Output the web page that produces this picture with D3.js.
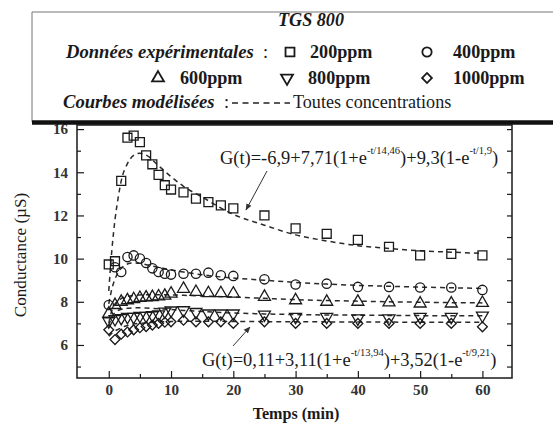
<!DOCTYPE html>
<html><head><meta charset="utf-8">
<script src="https://cdn.jsdelivr.net/npm/d3@7/dist/d3.min.js"></script>
<style>body{margin:0;background:#fff}svg{display:block}</style>
</head><body>
<svg id="c" width="553" height="426"></svg>
<script>
// ---- data ----
const times = [0,1,2,3,4,5,6,7,8,9,10,12,14,16,18,20,25,30,35,40,45,50,55,60];
const ppm200  = [9.73,9.88,13.6,15.6,15.7,15.4,14.78,14.37,13.88,13.4,13.2,13.07,12.78,12.62,12.47,12.33,12.0,11.4,11.15,10.87,10.55,10.15,10.22,10.15];
const ppm400  = [7.85,9.6,9.38,10.07,10.15,10.0,9.8,9.55,9.38,9.3,9.26,9.3,9.3,9.35,9.23,9.2,9.04,8.8,8.84,8.69,8.69,8.66,8.66,8.55];
const ppm600  = [7.45,7.85,8.0,8.07,8.12,8.18,8.2,8.22,8.25,8.28,8.38,8.6,8.46,8.4,8.4,8.38,8.23,8.07,8.0,8.0,7.97,7.92,7.92,7.95];
const ppm800  = [7.1,7.2,7.25,7.3,7.3,7.35,7.35,7.38,7.42,7.55,7.6,7.61,7.53,7.46,7.46,7.46,7.41,7.3,7.3,7.23,7.23,7.3,7.3,7.36];
const ppm1000 = [6.7,6.25,6.5,6.6,6.7,6.8,6.85,6.92,7.0,7.05,7.07,7.15,7.07,7.07,7.07,7.0,7.07,7.0,7.0,7.0,7.0,7.0,7.0,6.84];

const fitTimes = [0,0.5,1,1.5,2,3,4,5,6,8,10,12,15,20,25,30,35,40,45,50,55,60];
const fit200  = [8.5,10.4,11.8,12.8,13.6,14.4,14.78,14.88,14.8,14.3,13.8,13.35,12.85,12.05,11.55,11.1,10.82,10.6,10.47,10.36,10.3,10.24];
const fit400  = [7.9,8.6,9.05,9.35,9.55,9.75,9.8,9.78,9.72,9.6,9.48,9.38,9.25,9.1,9.0,8.9,8.82,8.76,8.72,8.68,8.65,8.62];
const fit600  = [7.0,7.6,7.9,8.05,8.15,8.25,8.3,8.32,8.33,8.33,8.32,8.3,8.27,8.22,8.16,8.1,8.06,8.03,8.0,7.98,7.96,7.95];
const fit800  = [6.9,7.3,7.5,7.6,7.65,7.7,7.72,7.72,7.71,7.68,7.64,7.6,7.55,7.48,7.44,7.41,7.39,7.38,7.37,7.36,7.35,7.35];
const fit1000 = [6.4,6.55,6.65,6.72,6.8,6.9,6.97,7.0,7.03,7.07,7.09,7.1,7.1,7.09,7.08,7.07,7.07,7.06,7.06,7.05,7.05,7.05];

const xTicks = [0,10,20,30,40,50,60];
const xMinor = [5,15,25,35,45,55];
const yTicks = [6,8,10,12,14,16];
const yMinor = [5,7,9,11,13,15];
const seriesNames = ["200ppm","400ppm","600ppm","800ppm","1000ppm"];

// ---- font detection (Times-like serif) ----
function hasFont(name){
  const c = document.createElement("canvas").getContext("2d");
  const s = "abcdefghijklmnopqrstuvwxyzABCDEFGHIJ0123456789";
  let diff = false;
  ["monospace","sans-serif","serif"].forEach(g=>{
    c.font = "40px " + g; const w1 = c.measureText(s).width;
    c.font = `40px "${name}", ${g}`; const w2 = c.measureText(s).width;
    if (Math.abs(w1-w2) > 0.5) diff = true;
  });
  return diff;
}
const cands = ["Liberation Serif","Times New Roman","Tinos","Nimbus Roman","FreeSerif","DejaVu Serif","Noto Serif"];
let FONT = "serif";
for (const f of cands){ if (hasFont(f)) { FONT = f; break; } }
const FF = `"${FONT}", serif`;
const ctx = document.createElement("canvas").getContext("2d");
ctx.font = `100px ${FF}`;
const K = Math.min(1.05, 880 / ctx.measureText("Toutes concentrations").width);
const fs = v => (v*K).toFixed(2);

// ---- chart ----
const svg = d3.select("#c").attr("font-family", FF);
const L=77,R=512,T=125,B=378;
const x = d3.scaleLinear().domain([-5.1,64.75]).range([L,R]);
const y = d3.scaleLinear().domain([4.47,16.19]).range([B,T]);
const ink = "#1a1a1a";

const sym = {
  "200ppm":  {type:d3.symbolSquare,   size:80, rot:0},
  "400ppm":  {type:d3.symbolCircle,   size:68, rot:0},
  "600ppm":  {type:d3.symbolTriangle, size:62, rot:0},
  "800ppm":  {type:d3.symbolTriangle, size:62, rot:180},
  "1000ppm": {type:d3.symbolSquare,   size:48, rot:45}
};
function drawSym(g, name, cx, cy, sw){
  const s = sym[name];
  g.append("path").attr("d", d3.symbol().type(s.type).size(s.size)())
    .attr("transform", `translate(${cx},${cy}) rotate(${s.rot})`)
    .attr("fill","none").attr("stroke",ink).attr("stroke-width",sw||1.2);
}

// fitted curves
const fits = [fit200,fit400,fit600,fit800,fit1000];
const line = d3.line().x(d=>x(d[0])).y(d=>y(d[1])).curve(d3.curveMonotoneX);
fits.forEach(f=>{
  svg.append("path").attr("d", line(fitTimes.map((t,i)=>[t,f[i]])))
    .attr("fill","none").attr("stroke","#2a2a2a").attr("stroke-width",1.5)
    .attr("stroke-dasharray","5,4");
});

// data points
const data = [ppm200,ppm400,ppm600,ppm800,ppm1000];
const gp = svg.append("g");
data.forEach((arr,k)=>{
  times.forEach((t,i)=> drawSym(gp, seriesNames[k], x(t), y(arr[i]), 1.3));
});

// axes
function clean(g){ g.select(".domain").remove(); g.attr("font-family", FF); return g; }
clean(svg.append("g").attr("transform",`translate(0,${B})`)
  .call(d3.axisBottom(x).tickValues(xTicks).tickSizeInner(-7).tickSizeOuter(0).tickPadding(6)));
clean(svg.append("g").attr("transform",`translate(0,${B})`)
  .call(d3.axisBottom(x).tickValues(xMinor).tickSizeInner(-4).tickSizeOuter(0).tickFormat("")));
clean(svg.append("g").attr("transform",`translate(${L},0)`)
  .call(d3.axisLeft(y).tickValues(yTicks).tickSizeInner(-7).tickSizeOuter(0).tickPadding(9)));
clean(svg.append("g").attr("transform",`translate(${L},0)`)
  .call(d3.axisLeft(y).tickValues(yMinor).tickSizeInner(-4).tickSizeOuter(0).tickFormat("")));
clean(svg.append("g").attr("transform",`translate(${R},0)`)
  .call(d3.axisRight(y).tickValues(yTicks.concat(yMinor)).tickSizeInner(-5).tickSizeOuter(0).tickFormat("")));
svg.selectAll(".tick line").attr("stroke",ink).attr("stroke-width",1.2);
svg.selectAll(".tick text").attr("font-size",fs(15)).attr("font-weight","bold").attr("fill","#333");

svg.append("rect").attr("x",L).attr("y",T).attr("width",R-L).attr("height",B-T)
  .attr("fill","none").attr("stroke",ink).attr("stroke-width",1.5);

// axis titles
svg.append("text").attr("x",296).attr("y",419).attr("text-anchor","middle").attr("fill",ink)
  .attr("font-size",fs(16)).attr("font-weight","bold").text("Temps (min)");
svg.append("text").attr("transform","translate(26,255) rotate(-90)").attr("text-anchor","middle").attr("fill",ink)
  .attr("font-size",fs(17)).text("Conductance (µS)");

// annotations
function formula(xp, yp, parts){
  const t = svg.append("text").attr("x",xp).attr("y",yp).attr("font-size",fs(18.3)).attr("fill",ink);
  parts.forEach(p=>{
    if(p.sup){ t.append("tspan").attr("dy",-10).attr("font-size",fs(10.5)).text(p.s); }
    else { t.append("tspan").attr("dy",p.after?10:0).text(p.s); }
  });
}
formula(220,164,[{s:"G(t)=-6,9+7,71(1+e"},{s:"-t/14,46",sup:1},{s:")+9,3(1-e",after:1},{s:"-t/1,9",sup:1},{s:")",after:1}]);
formula(202,366,[{s:"G(t)=0,11+3,11(1+e"},{s:"-t/13,94",sup:1},{s:")+3,52(1-e",after:1},{s:"-t/9,21",sup:1},{s:")",after:1}]);

svg.append("defs").append("marker").attr("id","ah").attr("viewBox","0 0 10 10")
  .attr("refX",9).attr("refY",5).attr("markerWidth",7).attr("markerHeight",7).attr("orient","auto")
  .append("path").attr("d","M0,1 L10,5 L0,9 Z").attr("fill","#333");
svg.append("line").attr("x1",267).attr("y1",171).attr("x2",246).attr("y2",210)
  .attr("stroke","#333").attr("stroke-width",1).attr("marker-end","url(#ah)");
svg.append("line").attr("x1",233).attr("y1",346).attr("x2",250).attr("y2",327)
  .attr("stroke","#333").attr("stroke-width",1).attr("marker-end","url(#ah)");

// legend box
svg.append("line").attr("x1",32).attr("x2",553).attr("y1",12).attr("y2",12).attr("stroke","#777").attr("stroke-width",1);
svg.append("line").attr("x1",32).attr("x2",32).attr("y1",12).attr("y2",122).attr("stroke","#777").attr("stroke-width",1);
svg.append("line").attr("x1",32).attr("x2",553).attr("y1",122.5).attr("y2",122.5).attr("stroke","#111").attr("stroke-width",4.5);

svg.append("text").attr("x",311).attr("y",26).attr("text-anchor","middle").attr("font-size",fs(18)).attr("fill",ink)
  .attr("font-weight","bold").attr("font-style","italic").text("TGS 800");
svg.append("text").attr("x",66).attr("y",58).attr("font-size",fs(18.5)).attr("fill",ink)
  .attr("font-weight","bold").attr("font-style","italic").text("Données expérimentales");
svg.append("text").attr("x",263).attr("y",58).attr("font-size",fs(18)).attr("fill",ink).text(":");
svg.append("text").attr("x",63).attr("y",108).attr("font-size",fs(18.5)).attr("fill",ink)
  .attr("font-weight","bold").attr("font-style","italic").text("Courbes modélisées");
svg.append("text").attr("x",224).attr("y",108).attr("font-size",fs(18)).attr("fill",ink).text(":");
svg.append("line").attr("x1",232).attr("x2",290).attr("y1",103).attr("y2",103)
  .attr("stroke","#222").attr("stroke-width",1.5).attr("stroke-dasharray","6,4.5");
svg.append("text").attr("x",293).attr("y",108).attr("font-size",fs(18)).attr("fill",ink).text("Toutes concentrations");

const legItems = [
  {n:"200ppm", sx:290, tx:310, y:58},
  {n:"400ppm", sx:427, tx:453, y:58},
  {n:"600ppm", sx:158, tx:180, y:84},
  {n:"800ppm", sx:287, tx:308, y:84},
  {n:"1000ppm",sx:427, tx:453, y:84}
];
const gl = svg.append("g");
legItems.forEach(d=>{
  drawSym(gl, d.n, d.sx, d.y-6, 1.8);
  gl.append("text").attr("x",d.tx).attr("y",d.y).attr("font-size",fs(18)).attr("fill",ink)
    .attr("font-weight","bold").text(d.n);
});
</script>
</body></html>
